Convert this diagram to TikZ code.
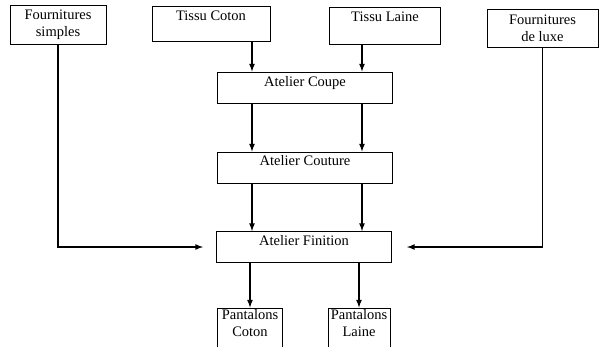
\documentclass[tikz,border=0pt]{standalone}
\usepackage{fontspec}
\setmainfont{Liberation Serif}
\begin{document}
\begin{tikzpicture}[x=1pt, y=-1pt, >=latex,
  every node/.style={font=\fontsize{14.5}{17}\selectfont}]
      \tikzset{
  sourcebox/.style={
    rectangle,
    draw,
    line width=1pt,
    align=center,
    inner sep=1pt
  },
  atelier/.style={
    rectangle,
    draw,
    line width=1pt,
    minimum width=175pt,
    minimum height=31pt
  },
  toptext/.style={
    label={[anchor=north, inner sep=#1, align=center]north:\ttext}
  },
  flow/.style={
    ->,
    line width=1.6pt
  }
}
\clip (0,0) rectangle (599,346);

% sources
\node [sourcebox, minimum width=96pt, minimum height=39pt] (simples) at (58,24.5) {Fournitures\\simples};
\def\ttext{Tissu Coton}
\node [sourcebox, minimum width=118pt, minimum height=35pt, toptext=5pt] (coton) at (211,24) {};
\def\ttext{Tissu Laine}
\node [sourcebox, minimum width=111pt, minimum height=37pt, toptext=5pt] (laine) at (385,26) {};
\node [sourcebox, minimum width=111pt, minimum height=38pt] (luxe) at (542.5,28) {Fournitures\\de luxe};

% ateliers
\def\ttext{Atelier Coupe}
\node [atelier, toptext=5pt] (coupe) at (305,87.5) {};
\def\ttext{Atelier Couture}
\node [atelier, toptext=4pt] (couture) at (305,167.5) {};
\def\ttext{Atelier Finition}
\node [atelier, toptext=4pt] (finition) at (304,247) {};

% produits
\def\ttext{Pantalons\\Coton}
\node [sourcebox, minimum width=65pt, minimum height=46pt, toptext=1.5pt] (pcoton) at (250,331) {};
\def\ttext{Pantalons\\Laine}
\node [sourcebox, minimum width=62pt, minimum height=46pt, toptext=1.5pt] (plaine) at (359,331) {};

\coordinate (left) at (252,0);
\coordinate (right) at (362,0);

\draw [flow] (coton.south -| left) -- (coupe.north -| left);
\draw [flow] (laine.south -| right) -- (coupe.north -| right);

\foreach \c in {left,right}
{
  \draw [flow] (coupe.south -| \c) -- (couture.north -| \c);
  \draw [flow] (couture.south -| \c) -- (finition.north -| \c);
}

\draw [flow, shorten >=13pt] (simples) |- (finition);
\draw [flow, shorten >=15pt] (luxe) |- (finition);

\foreach \p in {pcoton,plaine}
  \draw [flow] (finition.south -| \p.north) -- (\p.north);
    \end{tikzpicture}
\end{document}
